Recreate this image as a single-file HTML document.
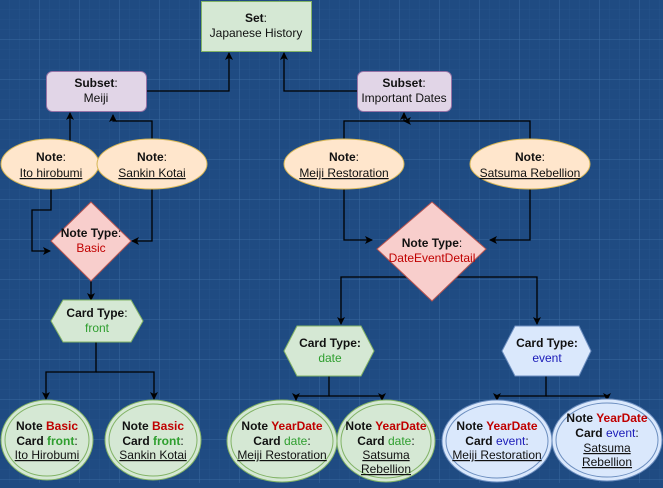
<!DOCTYPE html>
<html><head><style>
html,body{margin:0;padding:0;}
body{width:663px;height:483px;overflow:hidden;background:#1f4b82;}
svg text{font-family:"Liberation Sans",sans-serif;font-size:12px;fill:#111;text-anchor:middle;}
.b{font-weight:bold;}
.u{text-decoration:underline;}
.r{fill:#c00000;}
.g{fill:#2e9e2e;}
.bl{fill:#1a1ab8;}
.ln{stroke:#000;stroke-width:1.3;fill:none;}
</style></head><body>
<svg width="663" height="483" xmlns="http://www.w3.org/2000/svg">
<defs>
<pattern id="sg" width="10" height="10" patternUnits="userSpaceOnUse"><path d="M10 0V10H0" fill="none" stroke="#2a5890" stroke-width="0.6"/></pattern>
<pattern id="bg" width="40" height="40" patternUnits="userSpaceOnUse"><rect width="40" height="40" fill="url(#sg)"/><path d="M40 0V40H0" fill="none" stroke="#3a68a0" stroke-width="1"/></pattern>
<marker id="a" markerWidth="8" markerHeight="8" refX="7" refY="4" orient="auto" markerUnits="userSpaceOnUse"><path d="M0 0L8 4L0 8L2 4Z" fill="#000"/></marker>
</defs>
<rect width="663" height="483" fill="#1f4b82"/>
<rect width="663" height="483" fill="url(#bg)"/>

<!-- connectors -->
<g class="ln" marker-end="url(#a)">
<path d="M146 91H229V53"/>
<path d="M357 91H284V53"/>
<path d="M70 141V113"/>
<path d="M152 139V121H113V115"/>
<path d="M344 139V121H404V113"/>
<path d="M530 139V121H404"/>
<path d="M51 189V210H32V251H50"/>
<path d="M152 189V241H132"/>
<path d="M91 281V300"/>
<path d="M96 342V372H46V399"/>
<path d="M96 372H154V399"/>
<path d="M344 189V240H372"/>
<path d="M530 189V240H490"/>
<path d="M432 277H341V324"/>
<path d="M432 277H537V324"/>
<path d="M329 376V396H296V400"/>
<path d="M329 396H382V400"/>
<path d="M546 376V396H497V400"/>
<path d="M546 396H607V400"/>
</g>

<!-- Set -->
<rect x="201.5" y="1.5" width="110" height="50" fill="#d5e8d4" stroke="#82b366"/>
<text x="256" y="22" class="b">Set<tspan font-weight="normal">:</tspan></text>
<text x="256" y="37">Japanese History</text>

<!-- subsets -->
<rect x="46.5" y="71.5" width="100" height="40" rx="6" fill="#e1d5e7" stroke="#9673a6"/>
<text x="96" y="87" class="b">Subset<tspan font-weight="normal">:</tspan></text>
<text x="96" y="102">Meiji</text>
<rect x="357.5" y="71.5" width="94" height="40" rx="6" fill="#e1d5e7" stroke="#9673a6"/>
<text x="404" y="87" class="b">Subset<tspan font-weight="normal">:</tspan></text>
<text x="404" y="102">Important Dates</text>

<!-- notes -->
<g fill="#ffe6cc" stroke="#d6b656">
<ellipse cx="50" cy="164" rx="49" ry="25"/>
<ellipse cx="152" cy="164" rx="55" ry="25"/>
<ellipse cx="344" cy="164" rx="60" ry="25"/>
<ellipse cx="530" cy="164" rx="60" ry="25"/>
</g>
<text x="51" y="161" class="b">Note<tspan font-weight="normal">:</tspan></text>
<text x="51" y="177" class="u">Ito hirobumi</text>
<text x="152" y="161" class="b">Note<tspan font-weight="normal">:</tspan></text>
<text x="152" y="177" class="u">Sankin Kotai</text>
<text x="344" y="161" class="b">Note<tspan font-weight="normal">:</tspan></text>
<text x="344" y="177" class="u">Meiji Restoration</text>
<text x="530" y="161" class="b">Note<tspan font-weight="normal">:</tspan></text>
<text x="530" y="177" class="u">Satsuma Rebellion</text>

<!-- diamonds -->
<polygon points="91,202 131,241 91,281 51,241" fill="#f8cecc" stroke="#b85450"/>
<text x="91" y="237" class="b">Note Type<tspan font-weight="normal">:</tspan></text>
<text x="91" y="252" class="r">Basic</text>
<polygon points="432,202 486,249 432,301 377,249" fill="#f8cecc" stroke="#b85450"/>
<text x="432" y="247" class="b">Note Type<tspan font-weight="normal">:</tspan></text>
<text x="432" y="262" class="r">DateEventDetail</text>

<!-- hexagons -->
<polygon points="63,300 131,300 143,321 131,342 63,342 51,321" fill="#d5e8d4" stroke="#82b366"/>
<text x="97" y="317" class="b">Card Type<tspan font-weight="normal">:</tspan></text>
<text x="97" y="332" class="g">front</text>
<polygon points="297,326 361,326 374,351 361,376 297,376 284,351" fill="#d5e8d4" stroke="#82b366"/>
<text x="330" y="347" class="b">Card Type:</text>
<text x="330" y="362" class="g">date</text>
<polygon points="515,326 579,326 591,351 579,376 515,376 502,351" fill="#dae8fc" stroke="#6c8ebf"/>
<text x="547" y="347" class="b">Card Type:</text>
<text x="547" y="362" class="bl">event</text>

<!-- bottom ellipses -->
<g fill="#d5e8d4" stroke="#82b366">
<ellipse cx="47" cy="440" rx="46" ry="40"/><ellipse cx="47" cy="440" rx="42" ry="36"/>
<ellipse cx="153" cy="440" rx="48" ry="40"/><ellipse cx="153" cy="440" rx="44" ry="36"/>
<ellipse cx="282" cy="441" rx="55" ry="41"/><ellipse cx="282" cy="441" rx="51" ry="37"/>
<ellipse cx="386" cy="441" rx="49" ry="41"/><ellipse cx="386" cy="441" rx="45" ry="37"/>
</g>
<g fill="#dae8fc" stroke="#6c8ebf">
<ellipse cx="497" cy="441" rx="55" ry="41"/><ellipse cx="497" cy="441" rx="51" ry="37"/>
<ellipse cx="607" cy="440" rx="55" ry="41"/><ellipse cx="607" cy="440" rx="51" ry="37"/>
</g>
<g class="b">
<text x="47" y="430">Note <tspan class="r">Basic</tspan></text>
<text x="47" y="445">Card <tspan class="g">front</tspan><tspan font-weight="normal">:</tspan></text>
<text x="153" y="430">Note <tspan class="r">Basic</tspan></text>
<text x="153" y="445">Card <tspan class="g">front</tspan><tspan font-weight="normal">:</tspan></text>
<text x="282" y="430">Note <tspan class="r">YearDate</tspan></text>
<text x="282" y="445">Card <tspan class="g" font-weight="normal">date</tspan><tspan font-weight="normal">:</tspan></text>
<text x="386" y="430">Note <tspan class="r">YearDate</tspan></text>
<text x="386" y="445">Card <tspan class="g" font-weight="normal">date</tspan><tspan font-weight="normal">:</tspan></text>
<text x="497" y="430">Note <tspan class="r">YearDate</tspan></text>
<text x="497" y="445">Card <tspan class="bl" font-weight="normal">event</tspan><tspan font-weight="normal">:</tspan></text>
<text x="607" y="422">Note <tspan class="r">YearDate</tspan></text>
<text x="607" y="437">Card <tspan class="bl" font-weight="normal">event</tspan><tspan font-weight="normal">:</tspan></text>
</g>
<text x="47" y="459" class="u">Ito Hirobumi</text>
<text x="153" y="459" class="u">Sankin Kotai</text>
<text x="282" y="459" class="u">Meiji Restoration</text>
<text x="386" y="459" class="u">Satsuma</text>
<text x="386" y="473" class="u">Rebellion</text>
<text x="497" y="459" class="u">Meiji Restoration</text>
<text x="607" y="452" class="u">Satsuma</text>
<text x="607" y="466" class="u">Rebellion</text>
</svg>
</body></html>
